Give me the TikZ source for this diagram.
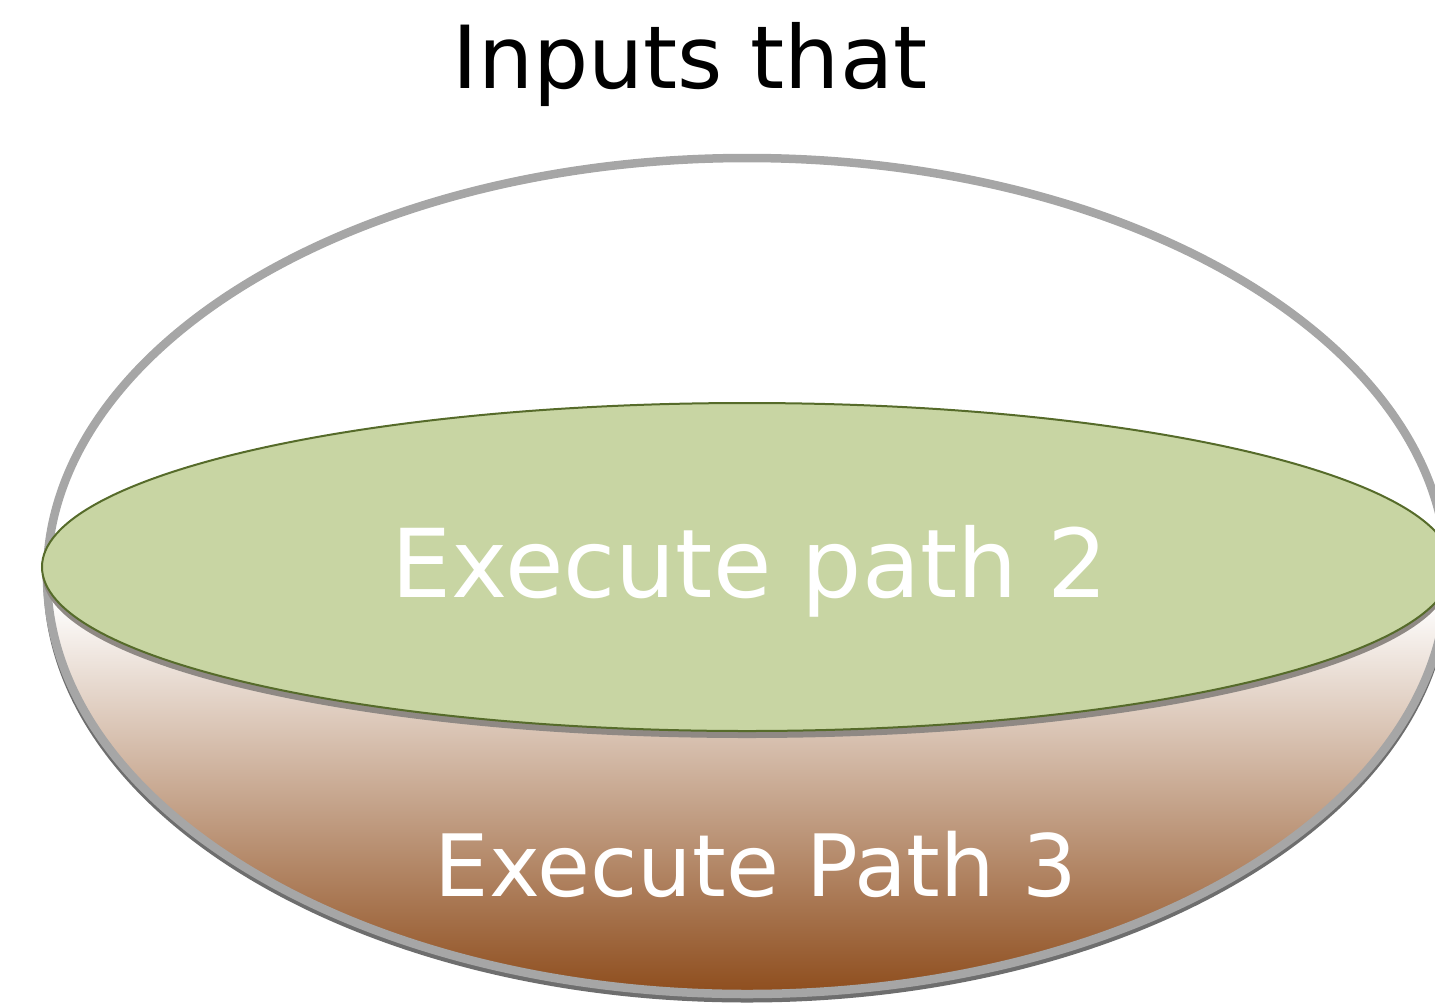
\documentclass[tikz,border=0pt]{standalone}
\usepackage{fontspec}
\setmainfont{DejaVu Sans}
\definecolor{rimgrey}{HTML}{A6A6A6}
\definecolor{rimshadow}{HTML}{6E6E6E}
\definecolor{leaf}{HTML}{C8D5A3}
\definecolor{leafedge}{HTML}{566B2A}
\definecolor{soil}{HTML}{8E4D1D}
\definecolor{plateshadow}{HTML}{8F8984}
\begin{document}
\begin{tikzpicture}[x=1pt,y=-1pt,
  caption/.style={anchor=base,inner sep=0pt,text=black,font=\fontsize{87}{100}\selectfont},
  platelabel/.style={anchor=base,inner sep=0pt,text=white},
  rim/.style={draw=rimgrey,line width=8.5pt}]
\useasboundingbox (0,0) rectangle (1435,1005);
\clip (0,0) rectangle (1435,1005);

% lower bowl: shaded interior below the plate's centre line
\begin{scope}
  \clip (747,576) ellipse[x radius=700,y radius=418];
  \shade[top color=white,bottom color=soil] (0,600) rectangle (1435,994);
\end{scope}

% shadow under the bowl rim, then the rim itself
\draw[rimshadow,line width=7pt,shift={(0,5)}]
  (47,576) arc[start angle=180,end angle=0,x radius=700,y radius=418];
\draw[rim] (747,576) ellipse[x radius=700,y radius=418];

% the plate with its drop shadow
\fill[plateshadow] (747,573) ellipse[x radius=705,y radius=165];
\filldraw[fill=leaf,draw=leafedge,line width=2pt] (747,567) ellipse[x radius=705,y radius=164];

% labels
\node[caption] (title) at (690,88) {Inputs that};
\node[platelabel,font=\fontsize{95}{110}\selectfont] (path2) at (750,597) {Execute path 2};
\node[platelabel,font=\fontsize{86}{100}\selectfont] (path3) at (756,896) {Execute Path 3};
\end{tikzpicture}
\end{document}
